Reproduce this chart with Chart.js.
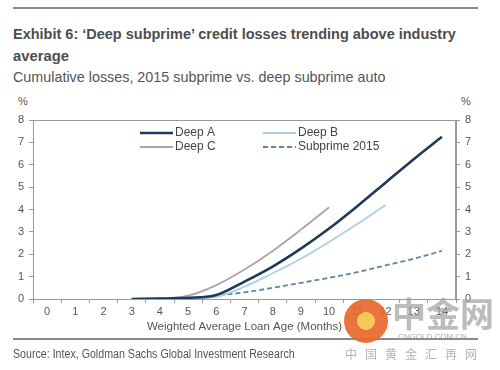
<!DOCTYPE html>
<html>
<head>
<meta charset="utf-8">
<script src="https://cdn.jsdelivr.net/npm/chart.js@4.4.1/dist/chart.umd.min.js"></script>
<style>
  html, body { margin: 0; padding: 0; background: #fff; }
  #wrap { position: relative; width: 500px; height: 370px; overflow: hidden; font-family: "Liberation Sans", Arial, sans-serif; color: #555; }
  .rule { position: absolute; left: 13px; width: 465px; height: 2px; background: #8a8a8a; }
  .fit { position: absolute; left: 13px; white-space: nowrap; transform-origin: 0 0; display: inline-block; }
  .t { font-size: 14px; font-weight: bold; color: #4d4d4d; }
  .pct { position: absolute; top: 95px; font-size: 11px; color: #555; }
  #chart { position: absolute; left: 0; top: 0; }
  #logo { position: absolute; left: 344px; top: 299px; width: 44px; height: 44px; border-radius: 50%;
          background: radial-gradient(circle at 50% 50%, #f7c24a 0 28%, #e8682c 29% 100%); opacity: 0.92; }
  #wm1 { position: absolute; left: 392px; top: 288px; font: bold 34px "Noto Sans CJK SC", sans-serif; color: rgba(160,160,160,0.7); letter-spacing: 0px; }
  #wm2 { position: absolute; left: 398px; top: 332px; font-size: 8px; color: rgba(150,150,150,0.8); }
  #wm3 { position: absolute; left: 345px; top: 345px; font: 12px "Noto Sans CJK SC", sans-serif; color: rgba(160,160,160,0.8); letter-spacing: 8px; }
</style>
</head>
<body>
<div id="wrap">
  <div class="rule" style="top:7px"></div>
  <div class="fit t" style="top:26px" data-w="443">Exhibit 6: ‘Deep subprime’ credit losses trending above industry</div>
  <div class="fit t" style="top:48px" data-w="56">average</div>
  <div class="fit" style="top:68px; font-size:15px; color:#555" data-w="372">Cumulative losses, 2015 subprime vs. deep subprime auto</div>
  <div class="pct" style="left:18px">%</div>
  <div class="pct" style="left:461px">%</div>
  <canvas id="chart" width="500" height="370"></canvas>
  <div class="rule" style="top:338px"></div>
  <div class="fit" style="top:347px; font-size:12.5px; color:#555" data-w="282">Source: Intex, Goldman Sachs Global Investment Research</div>
  <div id="logo"></div>
  <div id="wm1">中金网</div>
  <div id="wm2">CNGOLD.COM.CN</div>
  <div id="wm3">中国黄金汇再网</div>
</div>
<script>
// Loan age in months (x categories)
const months = ['0', '1', '2', '3', '4', '5', '6', '7', '8', '9', '10', '11', '12', '13', '14'];

// Cumulative losses, % (null = no data yet)
const deepA = [null, null, null, 0, 0.02, 0.05, 0.18, 0.78, 1.45, 2.25, 3.15, 4.15, 5.2, 6.25, 7.25];
const deepB = [null, null, null, 0, 0.01, 0.03, 0.1, 0.55, 1.15, 1.8, 2.55, 3.35, 4.2, null, null];
const deepC = [null, null, null, 0, 0.02, 0.15, 0.62, 1.32, 2.15, 3.1, 4.1, null, null, null, null];
const subprime2015 = [null, null, null, 0, 0.01, 0.05, 0.15, 0.3, 0.5, 0.72, 0.95, 1.2, 1.5, 1.8, 2.15];

const yTicks = [0, 1, 2, 3, 4, 5, 6, 7, 8];

const axisGrey = '#9a9a9a';
const tickFont = { family: '"Liberation Sans", Arial, sans-serif', size: 11 };

// squeeze header/footer text to the narrow face of the original
document.querySelectorAll('.fit').forEach(el => {
    const target = parseFloat(el.dataset.w);
    el.style.transform = 'scaleX(' + (target / el.offsetWidth) + ')';
});

// frame around the plot area
const framePlugin = {
    id: 'frame',
    afterDraw(chart) {
        const a = chart.chartArea, ctx = chart.ctx;
        ctx.save();
        ctx.strokeStyle = axisGrey;
        ctx.lineWidth = 1;
        ctx.strokeRect(a.left + 0.5, a.top + 0.5, a.right - a.left - 1, a.bottom - a.top);
        ctx.restore();
    }
};

// two-column legend inside the plot
const legendPlugin = {
    id: 'insideLegend',
    afterDraw(chart) {
        const ctx = chart.ctx, a = chart.chartArea;
        ctx.save();
        ctx.font = '12px "Liberation Sans", Arial, sans-serif';
        ctx.fillStyle = '#444';
        ctx.textBaseline = 'middle';
        chart.data.datasets.forEach((ds, i) => {
            const x = a.left + 107 + (i % 2) * 123;
            const y = a.top + 13 + Math.floor(i / 2) * 14;
            ctx.strokeStyle = ds.borderColor;
            ctx.lineWidth = ds.borderWidth;
            ctx.setLineDash(ds.borderDash || []);
            ctx.beginPath();
            ctx.moveTo(x, y);
            ctx.lineTo(x + 33, y);
            ctx.stroke();
            ctx.setLineDash([]);
            ctx.fillText(ds.label, x + 35, y);
        });
        ctx.restore();
    }
};

function fixWidth(w) {
    return function(scale) { scale.width = w; };
}

new Chart(document.getElementById('chart').getContext('2d'), {
    type: 'line',
    data: {
        labels: months,
        datasets: [
            { label: 'Deep A', data: deepA, borderColor: '#1e3a56', borderWidth: 2.6 },
            { label: 'Deep B', data: deepB, borderColor: '#a9d0e3', borderWidth: 1.8 },
            { label: 'Deep C', data: deepC, borderColor: '#aba3ab', borderWidth: 1.8 },
            { label: 'Subprime 2015', data: subprime2015, borderColor: '#5f84a6', borderWidth: 1.8, borderDash: [5, 3] }
        ]
    },
    options: {
        responsive: false,
        animation: false,
        events: [],
        layout: { padding: { top: 120, left: 0, right: 0, bottom: 36 } },
        elements: {
            point: { radius: 0 },
            line: { cubicInterpolationMode: 'monotone', fill: false }
        },
        scales: {
            x: {
                type: 'category',
                offset: true,
                grid: { display: true, offset: true, drawOnChartArea: false, drawTicks: true, tickLength: 4, color: axisGrey },
                border: { display: true, color: axisGrey },
                ticks: { color: '#555', font: tickFont, padding: 2, maxRotation: 0, autoSkip: false },
                title: { display: true, text: 'Weighted Average Loan Age (Months)', color: '#555',
                         font: { family: '"Liberation Sans", Arial, sans-serif', size: 11.5 }, padding: { top: 0, bottom: 0 } }
            },
            y: {
                position: 'left',
                min: 0, max: 8,
                afterFit: fixWidth(33),
                afterBuildTicks: s => { s.ticks = yTicks.map(v => ({ value: v })); },
                grid: { drawOnChartArea: false, drawTicks: true, tickLength: 4, color: axisGrey },
                border: { display: true, color: axisGrey },
                ticks: { color: '#555', font: tickFont, padding: 5 }
            },
            y2: {
                position: 'right',
                min: 0, max: 8,
                afterFit: fixWidth(44),
                afterBuildTicks: s => { s.ticks = yTicks.map(v => ({ value: v })); },
                grid: { drawOnChartArea: false, drawTicks: true, tickLength: 4, color: axisGrey },
                border: { display: true, color: axisGrey },
                ticks: { color: '#555', font: tickFont, padding: 5 }
            }
        },
        plugins: {
            legend: { display: false },
            tooltip: { enabled: false }
        }
    },
    plugins: [framePlugin, legendPlugin]
});
</script>
</body>
</html>
